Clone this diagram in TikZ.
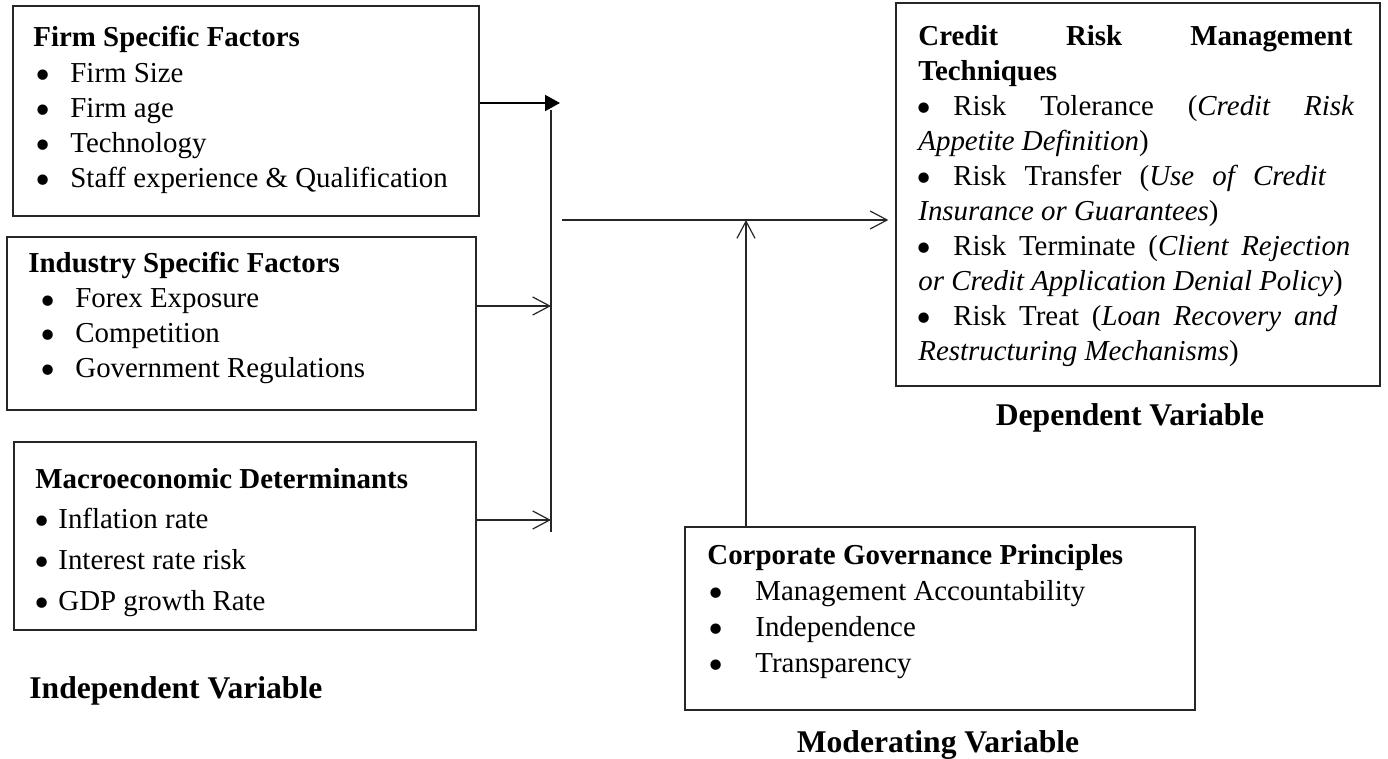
\documentclass[tikz,border=0pt]{standalone}
\usepackage{fontspec}
\setmainfont{Liberation Serif}
\usetikzlibrary{arrows.meta,fit}
\tikzset{
  openbarb/.tip={Straight Barb[length=8.5pt,width=9pt,line width=0.6pt]},
  solidtip/.tip={Triangle[length=7.5pt,width=8pt]},
}
\newcommand{\bigbul}{\smash{\raisebox{-3.5pt}{\scalebox{1.5}{•}}}}
\begin{document}
\begin{tikzpicture}[x=0.5pt,y=-0.5pt,
  txt/.style={inner sep=0pt,anchor=base west,font=\fontsize{14.45}{17.5}\selectfont},
  lbl/.style={inner sep=0pt,anchor=base,font=\fontsize{15.8}{19}\selectfont\bfseries},
  box/.style={draw=black!85,line width=0.6pt,inner sep=0pt},
  conn/.style={draw=black!85,line width=0.6pt},
  thickconn/.style={draw=black,line width=1pt},
]
\useasboundingbox (0,0) rectangle (1388,759);

% boxes
\node[box,fit={(13,6)(479,216)}] (B1) {};
\node[box,fit={(7,237)(476,410)}] (B2) {};
\node[box,fit={(14,442)(476,630)}] (B3) {};
\node[box,fit={(896,3)(1380,386)}] (RB) {};
\node[box,fit={(685,527)(1195,710)}] (MB) {};

% box 1
\node[txt] (f0) at (33,47) {\textbf{Firm Specific Factors}};
\node[txt] (f1) at (35,83) {\makebox[17.5pt][l]{\bigbul}Firm Size};
\node[txt] (f2) at (35,118) {\makebox[17.5pt][l]{\bigbul}Firm age};
\node[txt] (f3) at (35,153) {\makebox[17.5pt][l]{\bigbul}Technology};
\node[txt] (f4) at (35,188) {\makebox[17.5pt][l]{\bigbul}Staff experience \& Qualification};

% box 2
\node[txt] (i0) at (28,273) {\textbf{Industry Specific Factors}};
\node[txt] (i1) at (40,308) {\makebox[17.5pt][l]{\bigbul}Forex Exposure};
\node[txt] (i2) at (40,343) {\makebox[17.5pt][l]{\bigbul}Competition};
\node[txt] (i3) at (40,378) {\makebox[17.5pt][l]{\bigbul}Government Regulations};

% box 3
\node[txt] (m0) at (35,488) {\textbf{Macroeconomic Determinants}};
\node[txt] (m1) at (34,528) {\makebox[12pt][l]{\bigbul}Inflation rate};
\node[txt] (m2) at (34,569) {\makebox[12pt][l]{\bigbul}Interest rate risk};
\node[txt] (m3) at (34,610) {\makebox[12pt][l]{\bigbul}GDP growth Rate};

% right box
\node[txt] (r1) at (918,46) {\textbf{\makebox[217pt][s]{Credit Risk Management}}};
\node[txt] (r2) at (918,81) {\textbf{Techniques}};
\node[txt] (r3) at (916,116) {\makebox[18.5pt][l]{\bigbul}\makebox[200.5pt][s]{Risk Tolerance (\textit{Credit Risk}}};
\node[txt] (r4) at (918,151) {\textit{Appetite Definition})};
\node[txt] (r5) at (916,186) {\makebox[18.5pt][l]{\bigbul}\makebox[186.5pt][s]{Risk Transfer (\textit{Use of Credit}}};
\node[txt] (r6) at (918,221) {\textit{Insurance or Guarantees})};
\node[txt] (r7) at (916,256) {\makebox[18.5pt][l]{\bigbul}\makebox[198.5pt][s]{Risk Terminate (\textit{Client Rejection}}};
\node[txt] (r8) at (918,291) {\textit{or Credit Application Denial Policy})};
\node[txt] (r9) at (916,326) {\makebox[18.5pt][l]{\bigbul}\makebox[192pt][s]{Risk Treat (\textit{Loan Recovery and}}};
\node[txt] (r10) at (918,361) {\textit{Restructuring Mechanisms})};

% moderating box
\node[txt] (c0) at (707,564) {\textbf{Corporate Governance Principles}};
\node[txt] (c1) at (708,600) {\makebox[23.5pt][l]{\bigbul}Management Accountability};
\node[txt] (c2) at (708,636) {\makebox[23.5pt][l]{\bigbul}Independence};
\node[txt] (c3) at (708,672) {\makebox[23.5pt][l]{\bigbul}Transparency};

% labels
\node[lbl] (L1) at (1130,425) {Dependent Variable};
\node[lbl,anchor=base west] (L2) at (29,698) {Independent Variable};
\node[lbl] (L3) at (938,752) {Moderating Variable};

% connectors
\coordinate (j1) at (560,103);
\coordinate (vt) at (551,110);
\coordinate (vb) at (551,532);
\coordinate (j2) at (551,306);
\coordinate (j3) at (551,520);
\coordinate (hs) at (562,220);
\coordinate (mm) at (746,220);

\draw[thickconn,-{solidtip}] (B1.east|-j1) -- (j1);
\draw[conn] (vt) -- (vb);
\draw[conn,-{openbarb}] (B2.east|-j2) -- (j2);
\draw[conn,-{openbarb}] (B3.east|-j3) -- (j3);
\draw[conn,-{openbarb},shorten >=3.5pt] (hs) -- (RB.west|-hs);
\draw[conn,-{openbarb}] (MB.north-|mm) -- (mm);
\end{tikzpicture}
\end{document}
